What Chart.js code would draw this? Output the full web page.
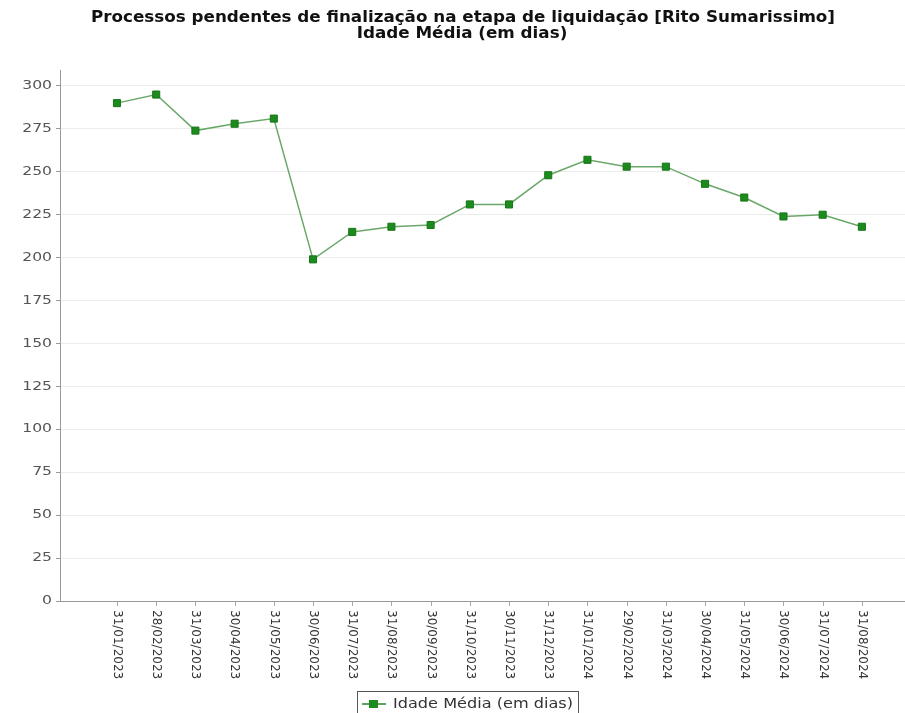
<!DOCTYPE html>
<html><head><meta charset="utf-8">
<script src="https://cdn.jsdelivr.net/npm/chart.js@4/dist/chart.umd.min.js"></script>
<style>html,body{margin:0;padding:0;background:#fff}#wrap{width:905px;height:713px}</style>
</head><body><div id="wrap"><canvas id="c" width="905" height="713"></canvas></div>
<script>
const categories = ['31/01/2023','28/02/2023','31/03/2023','30/04/2023','31/05/2023','30/06/2023','31/07/2023','31/08/2023','30/09/2023','31/10/2023','30/11/2023','31/12/2023','31/01/2024','29/02/2024','31/03/2024','30/04/2024','31/05/2024','30/06/2024','31/07/2024','31/08/2024'];
const idadeMedia = [290,295,274,278,281,199,215,218,219,231,231,248,257,253,253,243,235,224,225,218];
const yTicks = [0,25,50,75,100,125,150,175,200,225,250,275,300];
const titleLines = ['Processos pendentes de finalização na etapa de liquidação [Rito Sumarissimo]','Idade Média (em dias)'];
const seriesLabel = 'Idade Média (em dias)';

const FONT = '"DejaVu Sans", sans-serif';

function drawStretched(ctx, text, x, y, font, sx, color, align) {
  ctx.save();
  ctx.font = font;
  ctx.fillStyle = color;
  ctx.textBaseline = 'middle';
  ctx.textAlign = align || 'center';
  ctx.translate(x, y);
  ctx.scale(sx, 1);
  ctx.fillText(text, 0, 0);
  ctx.restore();
}
function widthOf(ctx, text, font) {
  ctx.save(); ctx.font = font; const w = ctx.measureText(text).width; ctx.restore(); return w;
}

const decor = {
  id: 'decor',
  afterDraw(chart) {
    const ctx = chart.ctx;
    const xs = chart.scales.x;
    const ys = chart.scales.y;
    const bottom = chart.chartArea.bottom;
    // title
    const tf = 'bold 15px ' + FONT;
    const r = 744 / widthOf(ctx, titleLines[0], tf);
    drawStretched(ctx, titleLines[0], 463, 18, tf, r, '#111');
    drawStretched(ctx, titleLines[1], 462, 34, tf, r, '#111');
    // y labels
    const yf = '12px ' + FONT;
    yTicks.forEach(v => {
      drawStretched(ctx, String(v), 52, ys.getPixelForValue(v), yf, 1.3, '#555', 'right');
    });
    // x ticks and labels
    ctx.save();
    ctx.strokeStyle = '#aaa'; ctx.lineWidth = 1;
    categories.forEach((lab, i) => {
      const px = xs.getPixelForValue(i);
      ctx.beginPath();
      ctx.moveTo(Math.round(px) + 0.5, bottom + 1);
      ctx.lineTo(Math.round(px) + 0.5, bottom + 5);
      ctx.stroke();
      ctx.save();
      ctx.translate(px, bottom + 9);
      ctx.rotate(Math.PI / 2);
      ctx.font = '12px ' + FONT;
      ctx.fillStyle = '#333';
      ctx.textAlign = 'left';
      ctx.textBaseline = 'middle';
      ctx.fillText(lab, 0, 0);
      ctx.restore();
    });
    ctx.restore();
    // legend
    ctx.save();
    ctx.strokeStyle = '#555'; ctx.lineWidth = 1;
    ctx.strokeRect(357.5, 691.5, 221, 30);
    const ly = 704;
    ctx.strokeStyle = '#5aa55a'; ctx.lineWidth = 2;
    ctx.beginPath(); ctx.moveTo(362, ly); ctx.lineTo(386, ly); ctx.stroke();
    ctx.fillStyle = '#1d8a1d';
    ctx.fillRect(369, ly - 4, 9, 8);
    ctx.restore();
    const lf = '14px ' + FONT;
    drawStretched(ctx, seriesLabel, 393, ly, lf, 180 / widthOf(ctx, seriesLabel, lf), '#333', 'left');
  }
};

new Chart(document.getElementById('c'), {
  type: 'line',
  data: {
    datasets: [{
      label: seriesLabel,
      data: categories.map((c, i) => ({ x: i, y: idadeMedia[i] })),
      borderColor: '#6aa86a',
      borderWidth: 1.5,
      tension: 0,
      pointStyle: 'rect',
      pointRadius: 5,
      pointBackgroundColor: '#1d8a1d',
      pointBorderColor: '#187518',
      pointBorderWidth: 1,
      fill: false
    }]
  },
  options: {
    responsive: false,
    animation: false,
    devicePixelRatio: 1,
    layout: { autoPadding: false, padding: { top: 70, left: 0, right: 0, bottom: 0 } },
    plugins: { legend: { display: false }, title: { display: false }, tooltip: { enabled: false } },
    scales: {
      x: {
        type: 'linear',
        min: -1.454,
        max: 20.1,
        grid: { display: false },
        border: { display: true, color: '#999', width: 1 },
        ticks: { display: false },
        afterFit(scale) { scale.height = 112; }
      },
      y: {
        min: 0,
        max: 309.3,
        afterBuildTicks(scale) { scale.ticks = yTicks.map(v => ({ value: v })); },
        grid: { color: '#ececec', tickColor: '#999', tickLength: 4, drawTicks: true },
        border: { display: true, color: '#999', width: 1 },
        ticks: { font: { family: FONT, size: 12 }, color: 'rgba(0,0,0,0)', padding: 4 },
        afterFit(scale) { scale.width = 60; }
      }
    }
  },
  plugins: [decor]
});
</script>
</body></html>
